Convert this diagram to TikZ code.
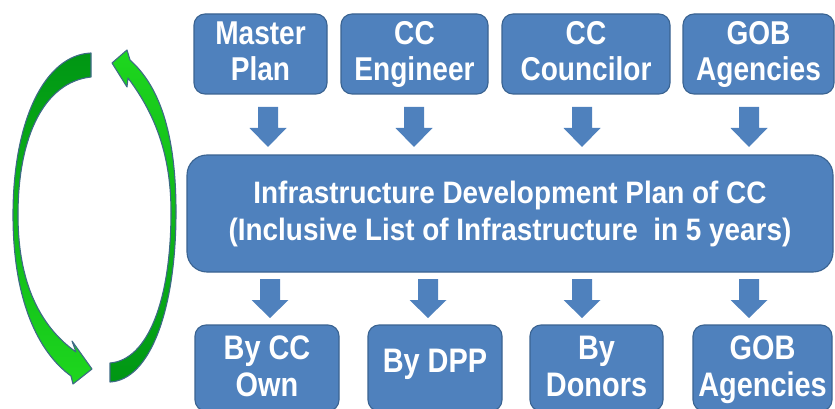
\documentclass[tikz,border=0pt]{standalone}
\usepackage{fontspec}
\newfontfamily\boxfont{Liberation Sans}[FakeStretch=0.85]
\newfontfamily\bigboxfont{Liberation Sans}[FakeStretch=0.9]
\definecolor{boxblue}{HTML}{4F81BD}
\definecolor{boxline}{HTML}{3A6391}
\definecolor{gdark}{RGB}{0,150,20}
\definecolor{glight}{RGB}{30,215,30}
\definecolor{gline}{HTML}{3E6A86}
\newcommand\blockdown[3]{\fill[boxblue] (#1-10,#2) -- (#1+10,#2) -- (#1+10,#2+21) -- (#1+18.5,#2+21) -- (#1,#3) -- (#1-18.5,#2+21) -- (#1-10,#2+21) -- cycle;}
\tikzset{
  smallbox/.style={draw=boxline, line width=1.1pt, fill=boxblue, rounded corners=11pt,
    inner sep=0pt, outer sep=0pt, text=white, align=center, text depth=6pt,
    font=\boxfont\bfseries\fontsize{33}{36}\selectfont},
  lowbox/.style={smallbox, text depth=3.5pt, font=\boxfont\bfseries\fontsize{34}{37}\selectfont},
  bigbox/.style={smallbox, rounded corners=20pt, text depth=6.3pt,
    font=\bigboxfont\bfseries\fontsize{31}{37}\selectfont},
  cyclearrow/.style={draw=gline, line width=1.1pt, line join=round}
}
\begin{document}
\begin{tikzpicture}[x=1pt,y=-1pt]
\useasboundingbox (0,0) rectangle (835,409);
\clip (0,0) rectangle (835,409);

% top boxes
\node[smallbox, minimum width=133pt, minimum height=80pt] (mp) at (260.5,54) {Master\\Plan};
\node[smallbox, minimum width=147pt, minimum height=80pt] (ce) at (414.5,54) {CC\\Engineer};
\node[smallbox, minimum width=168pt, minimum height=80pt] (cc) at (586,54) {CC\\Councilor};
\node[smallbox, minimum width=151pt, minimum height=80pt] (gob) at (758.5,54) {GOB\\Agencies};

% big box
\node[bigbox, minimum width=646pt, minimum height=117pt] (idp) at (510,213.5)
  {Infrastructure Development Plan of CC\\(Inclusive List of Infrastructure\ \ in 5 years)};

% bottom boxes
\node[lowbox, minimum width=144pt, minimum height=86pt] (own) at (267,368) {By CC\\Own};
\node[lowbox, minimum width=134pt, minimum height=86pt, text depth=14.5pt] (dpp) at (435,368) {By DPP};
\node[lowbox, minimum width=133pt, minimum height=86pt] (don) at (596.5,368) {By\\Donors};
\node[lowbox, minimum width=139pt, minimum height=86pt] (gob2) at (762.5,368) {GOB\\Agencies};

% block arrows
\blockdown{268}{107}{147}
\blockdown{414}{107}{147}
\blockdown{582}{107}{147}
\blockdown{749}{107}{147}
\blockdown{270}{279}{318}
\blockdown{428}{279}{318}
\blockdown{582}{279}{318}
\blockdown{749}{279}{318}

% cycle arrows
\shadedraw[cyclearrow, top color=gdark, bottom color=glight]
  (91,53) .. controls (45,55) and (13,120) .. (13,215)
  .. controls (13,300) and (38,352) .. (71,376)
  -- (73,384) -- (92,369) -- (72,341) -- (76,352)
  .. controls (45,330) and (18,290) .. (18,215)
  .. controls (18,135) and (45,82) .. (91,77) -- cycle;
\shadedraw[cyclearrow, top color=glight, bottom color=gdark]
  (110,382) .. controls (150,380) and (176,310) .. (176,212)
  .. controls (176,130) and (158,85) .. (130,60)
  -- (127,50) -- (112,63) -- (127,87) -- (128,78)
  .. controls (152,110) and (171,150) .. (171,212)
  .. controls (171,300) and (148,360) .. (110,363) -- cycle;
\end{tikzpicture}
\end{document}
